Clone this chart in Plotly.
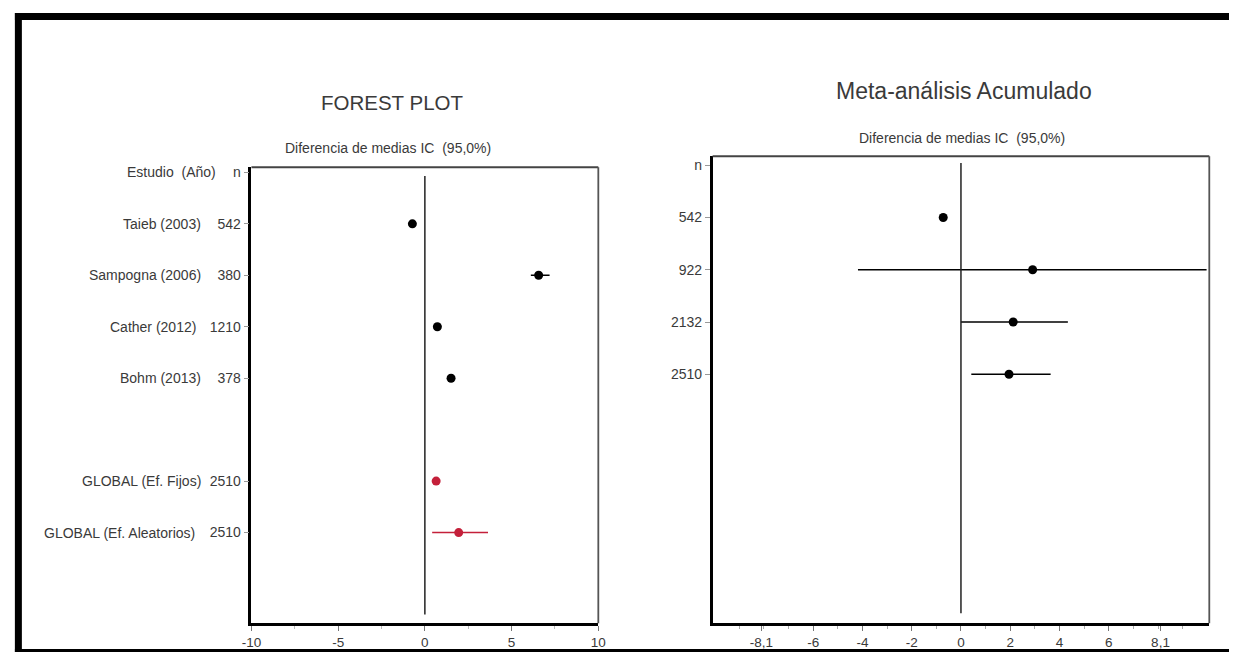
import plotly.graph_objects as go

W, H = 1237, 652
FONT = "Liberation Sans, Arial, sans-serif"
TXT = "#3a3a3a"
RED = "#c4203a"

# ---- Forest plot: rows (top to bottom) ----
row_names = ["Estudio\u00a0\u00a0(Año)", "Taieb (2003)", "Sampogna (2006)", "Cather (2012)",
             "Bohm (2013)", "GLOBAL (Ef. Fijos)", "GLOBAL (Ef. Aleatorios)"]
row_n = ["n", "542", "380", "1210", "378", "2510", "2510"]
row_pos = [0, 1, 2, 3, 4, 6, 7]

# individual studies: mean difference and 95% CI
study_pos = [1, 2, 3, 4]
study_md = [-0.72, 6.56, 0.72, 1.51]
study_lo = [-0.86, 6.11, 0.60, 1.38]
study_hi = [-0.58, 7.19, 0.84, 1.64]

# pooled estimates (fixed / random effects)
pooled_pos = [6, 7]
pooled_md = [0.65, 1.95]
pooled_lo = [0.55, 0.42]
pooled_hi = [0.75, 3.64]

# ---- Cumulative meta-analysis ----
cum_n = ["542", "922", "2132", "2510"]
cum_pos = [1, 2, 3, 4]
cum_md = [-0.72, 2.91, 2.12, 1.95]
cum_lo = [-0.86, -4.18, 0.0, 0.42]
cum_hi = [-0.58, 9.97, 4.34, 3.64]

left_xticks = [-10, -5, 0, 5, 10]
left_xticktext = ["-10", "-5", "0", "5", "10"]
left_xminor = [-7.5, -2.5, 2.5, 7.5]
right_xticks = [-8.1, -6, -4, -2, 0, 2, 4, 6, 8.1]
right_xticktext = ["-8,1", "-6", "-4", "-2", "0", "2", "4", "6", "8,1"]
right_xminor = list(range(-9, 10))


def px_x(p):
    return p / W


def px_y(p):
    return 1 - p / H


def ci_trace(pos, md, lo, hi, color, xa, ya, size=9):
    return go.Scatter(
        x=md, y=pos, mode="markers", xaxis=xa, yaxis=ya,
        marker=dict(color=color, size=size),
        error_x=dict(type="data", symmetric=False,
                     array=[h - m for h, m in zip(hi, md)],
                     arrayminus=[m - l for m, l in zip(md, lo)],
                     color=color, thickness=1.6, width=0),
        showlegend=False, hoverinfo="skip",
    )


fig = go.Figure()
fig.add_trace(ci_trace(study_pos, study_md, study_lo, study_hi, "black", "x", "y"))
fig.add_trace(ci_trace(pooled_pos, pooled_md, pooled_lo, pooled_hi, RED, "x", "y"))
fig.add_trace(ci_trace(cum_pos, cum_md, cum_lo, cum_hi, "black", "x2", "y2"))

ytickfont = dict(family=FONT, size=14, color=TXT)
xtickfont = dict(family=FONT, size=13.5, color=TXT)

fig.update_layout(
    width=W, height=H,
    margin=dict(l=0, r=0, t=0, b=0),
    paper_bgcolor="white", plot_bgcolor="white",
    font=dict(family=FONT, color=TXT),
    xaxis=dict(domain=[px_x(245), px_x(597)], range=[-10, 10], anchor="y",
               tickmode="array", tickvals=left_xticks, ticktext=left_xticktext,
               ticks="outside", ticklen=5,
               tickcolor="#777", tickfont=xtickfont, showgrid=False, zeroline=False,
               showline=True, linecolor="black", linewidth=2.5,
               minor=dict(tickmode="array", tickvals=left_xminor, ticks="outside",
                          ticklen=3, tickcolor="#bbb")),
    yaxis=dict(domain=[px_y(623), px_y(165)], range=[8.76, -0.1], anchor="x",
               tickmode="array", tickvals=row_pos, ticktext=row_n, ticks="outside",
               ticklen=5, tickcolor="#999", tickfont=ytickfont, showgrid=False,
               zeroline=False, showline=True, linecolor="black", linewidth=2.5),
    xaxis2=dict(domain=[px_x(713), px_x(1217)], range=[-10.08, 10.08], anchor="y2",
                tickmode="array", tickvals=right_xticks, ticktext=right_xticktext,
                ticks="outside", ticklen=5, tickcolor="#777", tickfont=xtickfont,
                showgrid=False, zeroline=False, showline=True, linecolor="black",
                linewidth=2.5,
                minor=dict(tickmode="array", tickvals=right_xminor, ticks="outside",
                           ticklen=3, tickcolor="#aaa")),
    yaxis2=dict(domain=[px_y(623), px_y(154)], range=[8.76, -0.17], anchor="x2",
                tickmode="array", tickvals=[0] + cum_pos, ticktext=["n"] + cum_n,
                ticks="outside", ticklen=5, tickcolor="#999", tickfont=ytickfont,
                showgrid=False, zeroline=False, showline=True, linecolor="black",
                linewidth=2.5),
)

shapes = []
# reference line of no effect
shapes.append(dict(type="line", xref="x", yref="y", x0=0, x1=0, y0=0.07, y1=8.59,
                   line=dict(color="#222", width=1.5)))
shapes.append(dict(type="line", xref="x2", yref="y2", x0=0, x1=0, y0=-0.04, y1=8.57,
                   line=dict(color="#222", width=1.5)))
# top and right edges of each panel
for (l, r, t, b) in [(245, 597, 165, 623), (713, 1217, 154, 623)]:
    shapes.append(dict(type="line", xref="paper", yref="paper",
                       x0=px_x(l), x1=px_x(r), y0=px_y(t), y1=px_y(t),
                       line=dict(color="#444", width=2)))
    shapes.append(dict(type="line", xref="paper", yref="paper",
                       x0=px_x(r), x1=px_x(r), y0=px_y(t), y1=px_y(b),
                       line=dict(color="#555", width=1.8)))
# outer frame (left, top, bottom), kept inside the page
frame = dict(color="black", width=7)
shapes.append(dict(type="line", xref="paper", yref="paper",
                   x0=px_x(8.5), x1=px_x(8.5), y0=px_y(10), y1=0, line=frame))
shapes.append(dict(type="line", xref="paper", yref="paper",
                   x0=px_x(5), x1=1, y0=px_y(13.5), y1=px_y(13.5), line=frame))
shapes.append(dict(type="line", xref="paper", yref="paper",
                   x0=px_x(5), x1=1, y0=px_y(650.5), y1=px_y(650.5),
                   line=dict(color="black", width=3)))
fig.update_layout(shapes=shapes)

annotations = []
# study names, right-aligned in their own column
name_right = [211, 196, 196, 191, 196, 196, 190]
for name, pos, xr in zip(row_names, row_pos, name_right):
    annotations.append(dict(text=name, xref="paper", yref="y", x=px_x(xr), y=pos,
                            xanchor="right", yanchor="middle", showarrow=False,
                            font=dict(family=FONT, size=14, color=TXT)))
# titles
annotations += [
    dict(text="FOREST PLOT", x=px_x(388), y=px_y(100), font=dict(size=20.5)),
    dict(text="Diferencia de medias IC\u00a0\u00a0(95,0%)", x=px_x(384), y=px_y(146),
         font=dict(size=14)),
    dict(text="Meta-análisis Acumulado", x=px_x(968), y=px_y(88), font=dict(size=23)),
    dict(text="Diferencia de medias IC\u00a0\u00a0(95,0%)", x=px_x(966), y=px_y(136),
         font=dict(size=14)),
]
for a in annotations[len(row_names):]:
    a.update(xref="paper", yref="paper", xanchor="center", yanchor="middle",
             showarrow=False)
    a["font"].update(family=FONT, color=TXT)
fig.update_layout(annotations=annotations)

fig.write_html("out.html")
